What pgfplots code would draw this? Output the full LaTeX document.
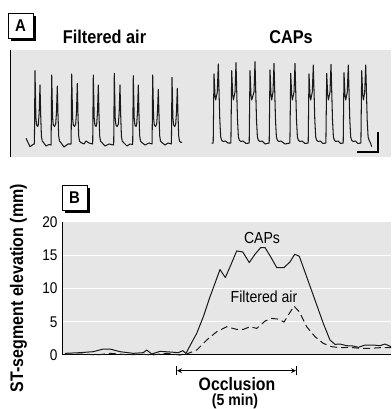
\documentclass[border=0pt]{standalone}
\usepackage{fontspec}
\setmainfont{Liberation Sans}[FakeStretch=0.88]
\usepackage{pgfplots}
\pgfplotsset{compat=1.18}
\definecolor{panelgrey}{HTML}{E6E6E6}
\definecolor{ink}{HTML}{1A1A1A}
\newcommand{\fs}[1]{\fontsize{#1}{#1}\selectfont}
\begin{document}
\begin{tikzpicture}[x=1pt,y=1pt]
\useasboundingbox (0,0) rectangle (391,409);
% ---------- Panel A ----------
\begin{axis}[
  at={(10pt,252pt)}, anchor=south west,
  scale only axis, width=381pt, height=107pt,
  xmin=10, xmax=391, ymin=50, ymax=157, y dir=reverse,
  axis lines=none, clip=false,
]
\fill[panelgrey] (rel axis cs:0,0) rectangle (rel axis cs:1,1);
\draw[black, line width=1pt] (rel axis cs:0,0) -- (rel axis cs:0,1);
% Filtered air ECG
\addplot[ink, line width=1.05pt, line join=round] coordinates {
(26,138.3)(30,146.7)(33.3,144.3)(34.4,144)
(35,70.7)(35.9,118)(36.6,125)(37.8,126.5)(38.4,124)(39.2,112)(40,85)(40.7,115)(41.4,136)(42.2,141)(43.5,142.5)(46,146)(49,144.5)(51.1,145)
(51.7,75)(52.6,118)(53.3,125)(54.5,126.5)(55.7,124)(56.5,112)(57.3,86)(58,115)(58.7,136)(59.5,141)(60.8,142.5)(64,147)(68,144)(71.1,144)
(71.7,74)(72.6,118)(73.3,125)(74.5,126.5)(75.7,124)(76.5,112)(77.3,83.3)(78,115)(78.7,136)(79.5,141)(80.8,142.5)(84,144)(86,141)(89,143)(92.7,144)
(93.3,75)(94.2,118)(94.9,125)(96.1,126.5)(96.7,124)(97.5,112)(98.3,85)(99,115)(99.7,136)(100.5,141)(101.8,142.5)(105,146)(109,144)(113.7,145)
(114.3,73.3)(115.2,118)(115.9,125)(117.1,126.5)(118.4,124)(119.2,112)(120,85)(120.7,115)(121.4,136)(122.2,141)(123.5,142.5)(127,146)(130,144)(132.7,144.5)
(133.3,75.7)(134.2,118)(134.9,125)(136.1,126.5)(136.7,124)(137.5,112)(138.3,85)(139,115)(139.7,136)(140.5,141)(141.8,142.5)(145,145)(149,143)(152.1,144)
(152.7,75)(153.6,118)(154.3,125)(155.5,126.5)(156.7,124)(157.5,112)(158.3,89.3)(159,115)(159.7,136)(160.5,141)(161.8,142.5)(165,145)(168,143)(171.4,144)
(172,77.3)(172.9,118)(173.6,125)(174.8,126.5)(175.7,124)(176.5,112)(177.3,88.3)(178,115)(178.7,136)(179.5,141)(180.8,142.5)(182,142)
};
% CAPs ECG
\addplot[ink, line width=1.05pt, line join=round] coordinates {
(211.7,143.3)(213.2,143)
(214,74)(215,95)(215.7,100)(217.3,92)(218.3,64)(219,90)(219.8,120)(220.7,137)(221.8,140.5)(223.3,141.5)(225.3,141)(228,143)(230.9,143)
(231.7,70.7)(232.7,95)(233.4,100)(235,92)(236,62.7)(236.7,90)(237.5,120)(238.4,137)(239.5,140.5)(241,141.5)(243,141)(246,143.5)(249.2,143)
(250,70.7)(251,95)(251.7,100)(254,92)(255,61.7)(255.7,90)(256.5,120)(257.4,137)(258.5,140.5)(260,141.5)(262,141)(265,144)(269.2,143)
(270,70)(271,95)(271.7,100)(273,92)(274,63.3)(274.7,90)(275.5,120)(276.4,137)(277.5,140.5)(279,141.5)(281,141)(285,144)(289.9,143)
(290.7,73.3)(291.7,95)(292.4,100)(294,92)(295,63.3)(295.7,90)(296.5,120)(297.4,137)(298.5,140.5)(300,141.5)(302,141)(305,143.5)(308.2,143)
(309,74)(310,95)(310.7,100)(312.3,92)(313.3,65)(314,90)(314.8,120)(315.7,137)(316.8,140.5)(318.3,141.5)(320.3,141)(323,143.5)(325.9,143)
(326.7,73.3)(327.7,95)(328.4,100)(330,92)(331,64.3)(331.7,90)(332.5,120)(333.4,137)(334.5,140.5)(336,141.5)(338,141)(340.5,143.5)(343.2,143)
(344,72.7)(345,95)(345.7,100)(347.3,92)(348.3,65)(349,90)(349.8,120)(350.7,137)(351.8,140.5)(353.3,141.5)(355.3,141)(358,143.5)(360.9,143)
(361.7,70.7)(362.7,95)(363.4,100)(364.7,92)(365.7,65)(366.4,90)(367.2,120)(368.1,137)(369.2,140.5)(370.5,143)(371.7,146.7)
};
% scale bar
\draw[black, line width=1.6pt] (axis cs:357,152) -- (axis cs:377.7,152) -- (axis cs:377.7,132);
\end{axis}
% titles panel A
\node[font=\fs{18.5pt}\bfseries, anchor=base, inner sep=0pt] at (104.5,365) {Filtered air};
\node[font=\fs{18.5pt}\bfseries, anchor=base, inner sep=0pt] at (291,365) {CAPs};
% box A
\fill[black] (11,368) rectangle (36,393);
\node[draw=black, line width=0.6pt, fill=white, minimum width=25pt, minimum height=25pt, inner sep=0pt, font=\fs{17pt}\bfseries] at (20.5,383.5) {A};
% box B
\fill[black] (65,196) rectangle (90,221);
\node[draw=black, line width=0.6pt, fill=white, minimum width=25pt, minimum height=25pt, inner sep=0pt, font=\fs{17pt}\bfseries] at (74.5,211.5) {B};
% ---------- Panel B ----------
\begin{axis}[
  at={(62pt,54pt)}, anchor=south west,
  scale only axis, width=329pt, height=133pt,
  xmin=62, xmax=391, ymin=0, ymax=20,
  axis x line*=bottom, axis y line*=left,
  axis line style={-, black, line width=1pt},
  axis background/.style={fill=panelgrey},
  xtick=\empty, ytick={0,5,10,15,20},
  major tick length=0pt,
  ymajorgrids, grid style={white, line width=1pt},
  tick label style={font=\fs{15.5pt}},
  /pgf/number format/assume math mode=true,
  yticklabel style={xshift=-1pt},
  clip=false,
]
\addplot[ink, line width=1pt, line join=round] coordinates {
(65,0.25)(80,0.35)(93.3,0.5)(103.3,0.9)(110,0.9)(120,0.5)(133.3,0.25)(143.3,0.35)(146.7,0.75)(151.7,0.15)(160,0.55)(170,0.45)(178.3,0.35)(182.7,0.65)(186,0.25)(190,1.4)(196.7,3.25)(203.3,5.75)(210,8.75)(220,12.85)(225.3,11.65)(230,13.25)(236.7,15.65)(242.7,15.5)(249.3,13.9)(255,15.15)(260.7,16.15)(265,16.15)(270.7,14.75)(276.7,13.15)(284,13.15)(290,14.0)(294.7,15.15)(299.3,14.85)(306.7,11.75)(315,8.25)(323.3,4.75)(330,2.25)(335,1.6)(340,1.65)(346.7,1.4)(353.3,1.35)(358.3,1.15)(365,1.5)(373.3,1.5)(380,1.4)(385,1.65)(391,1.25)
};
\addplot[ink, line width=1pt, dash pattern=on 7pt off 4pt] coordinates {
(65,0.15)(83.3,0.15)(96.7,0)(110,0.25)(126.7,0.05)(143.3,0.1)(151.7,0)(166.7,0.25)(180,0)(186.7,0.15)(196.7,0.75)(206.7,2.25)(216.7,3.5)(226.7,4.25)(236.7,3.85)(243.3,3.85)(250,4.25)(256.7,4.0)(265,5.1)(271.7,5.5)(278.3,5.4)(284,4.95)(289.3,6.25)(294,7.35)(299.3,6.5)(306.7,4.25)(315,2.75)(323.3,1.75)(331.7,1.25)(340,1.1)(350,1.15)(360,1.0)(370,1.0)(380,1.1)(391,1.1)
};
\node[font=\fs{16pt}] at (axis cs:262,17.6) {CAPs};
\node[font=\fs{16pt}] at (axis cs:264,8.7) {Filtered air};
\draw[black, line width=1.1pt, >=stealth, |<->|] (axis cs:176,-2.36) -- (axis cs:297,-2.36);
\end{axis}
\node[font=\fs{18pt}\bfseries, anchor=base, inner sep=0pt] at (237,18) {Occlusion};
\node[font=\fs{16pt}\bfseries, anchor=base, inner sep=0pt] at (235,3.8) {(5 min)};
\node[font=\fs{18.2pt}\bfseries, rotate=90] at (18.5,121) {ST-segment elevation (mm)};
\end{tikzpicture}
\end{document}
